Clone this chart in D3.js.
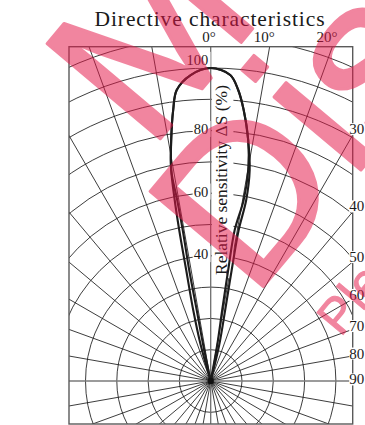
<!DOCTYPE html>
<html>
<head>
<meta charset="utf-8">
<script src="https://cdn.jsdelivr.net/npm/d3@7"></script>
<style>
  html, body { margin: 0; padding: 0; background: #fff; }
  svg { display: block; }
</style>
</head>
<body>
<svg id="chart" width="365" height="425"></svg>
<script>
// Directivity pattern: angle from the sensor axis (deg) vs relative sensitivity (%)
// Wider trace
const outerAngles = [-16, -15.52, -13.84, -12.45, -11.78, -11.25, -10.60, -9.31, -7.88, -6.66, -3.74, 0,
                     3.65, 5.40, 6.94, 8.84, 10.47, 11.10, 10.50, 10.71, 11.54, 13.28, 14];
const outerValues = [0, 11.94, 23.36, 36.32, 49.28, 58.96, 68.58, 78.03, 87.41, 93.60, 97.97, 100,
                     97.96, 93.39, 87.22, 77.92, 68.55, 58.93, 49.06, 36.09, 23.15, 11.82, 0];
// Narrower trace
const innerAngles = [-12, -11.77, -11.15, -10.96, -10.50, -10.49, -10.60, -9.31, -7.88, -6.66, -3.74, 0,
                     3.65, 5.40, 6.94, 8.84, 10.08, 10.33, 9.03, 8.96, 9.20, 10.23, 10.5];
const innerValues = [0, 11.75, 23.12, 36.12, 49.06, 58.81, 68.58, 78.03, 87.41, 93.60, 97.97, 100,
                     97.96, 93.39, 87.22, 77.92, 68.47, 58.78, 48.85, 35.90, 22.98, 11.69, 0];

// Grid and tick labels
const ringValues = d3.range(10, 160, 10);
const spokeAngles = d3.range(0, 360, 10);
const ringTickLabels = [40, 60, 80, 100];
const topAngleLabels = [0, 10, 20];
const sideAngleLabels = [30, 40, 50, 60, 70, 80, 90];

const titleText = "Directive characteristics";
const axisTitleText = "Relative sensitivity  \u0394S (%)";
const stampLines = ["Maintenance/", "Discontinued"];
const stampNote = "Please visit following URL about latest information.";

const frame = { left: 69, top: 46.7, right: 352.7, bottom: 424 };
const cx = 210.7, cy = 381;

const svg = d3.select("#chart");
const rad = d => d * Math.PI / 180;
const r = d3.scaleLinear().domain([0, 100]).range([0, 313]);

const serif = "'Liberation Serif', 'Times New Roman', Times, serif";
const ink = "#1a1a1a";

// Clip for everything inside the frame
svg.append("defs").append("clipPath").attr("id", "plotClip")
  .append("rect")
  .attr("x", frame.left).attr("y", frame.top)
  .attr("width", frame.right - frame.left).attr("height", frame.bottom - frame.top);

const plot = svg.append("g").attr("clip-path", "url(#plotClip)");
const grid = plot.append("g").attr("transform", `translate(${cx},${cy})`);

// Concentric rings every 10 %
grid.selectAll("circle.ring").data(ringValues).join("circle")
  .attr("class", "ring")
  .attr("r", d => r(d))
  .attr("fill", "none").attr("stroke", ink).attr("stroke-width", 0.85);

// Spokes every 10 degrees
const spokeLen = r(250);
grid.selectAll("line.spoke").data(spokeAngles.filter(a => a % 90 !== 0)).join("line")
  .attr("class", "spoke")
  .attr("x1", 0).attr("y1", 0)
  .attr("x2", d => spokeLen * Math.sin(rad(d)))
  .attr("y2", d => -spokeLen * Math.cos(rad(d)))
  .attr("stroke", ink).attr("stroke-width", 0.85);

// Main axes (0 deg and 90 deg) in grey
grid.append("line").attr("x1", 0).attr("x2", 0).attr("y1", frame.top - cy).attr("y2", frame.bottom - cy)
  .attr("stroke", "#6e6e6e").attr("stroke-width", 1.3);
grid.append("line").attr("x1", frame.left - cx).attr("x2", frame.right - cx).attr("y1", 0).attr("y2", 0)
  .attr("stroke", "#7a7a7a").attr("stroke-width", 1.6);

// Frame
svg.append("rect")
  .attr("x", frame.left).attr("y", frame.top)
  .attr("width", frame.right - frame.left).attr("height", frame.bottom - frame.top)
  .attr("fill", "none").attr("stroke", "#5a5a5a").attr("stroke-width", 1.4);

// Helper: text with a white backing box
function boxedText(parent, attrs, text, pad) {
  const g = parent.append("g");
  const bg = g.append("rect").attr("fill", "#fff");
  const t = g.append("text").text(text);
  Object.entries(attrs).forEach(([k, v]) => t.attr(k, v));
  const b = t.node().getBBox();
  bg.attr("x", b.x - pad.l).attr("y", b.y - pad.t)
    .attr("width", b.width + pad.l + pad.r).attr("height", b.height + pad.t + pad.b);
  return g;
}

// Axis title along the 0 deg axis, on a white strip
const titleLen = 190, titleMid = 180;
const axisTitle = svg.append("g");
const atBg = axisTitle.append("rect").attr("fill", "#fff");
const at = axisTitle.append("text")
  .attr("transform", `translate(${cx + 16.5},${titleMid}) rotate(-90)`)
  .attr("text-anchor", "middle")
  .attr("font-family", serif).attr("font-size", 15).attr("fill", ink)
  .text(axisTitleText);
{
  const len = at.node().getComputedTextLength();
  at.attr("font-size", 15 * titleLen / len);
  atBg.attr("x", cx + 1.2).attr("y", titleMid - titleLen / 2 - 3)
    .attr("width", 21.5).attr("height", titleLen + 6);
}

// Radial tick labels on the 0 deg axis
ringTickLabels.forEach(v => {
  const y = v === 100 ? cy - r(v) - 6.5 : cy - r(v);
  boxedText(svg, {
    x: cx - 2.5, y: y, "text-anchor": "end", "dominant-baseline": "middle",
    "font-family": serif, "font-size": 14.5, fill: ink
  }, String(v), { l: 1, r: 2.3, t: 0, b: 0 });
});

// Angle labels along the top edge
topAngleLabels.forEach(a => {
  const x = cx + (cy - frame.top) * Math.tan(rad(a));
  svg.append("text")
    .attr("x", x + 5).attr("y", 42)
    .attr("text-anchor", "end")
    .attr("font-family", serif).attr("font-size", 15).attr("fill", ink)
    .text(a + "\u00b0");
});

// Angle labels along the right edge
sideAngleLabels.forEach(a => {
  const dx = frame.right - cx;
  const y = cy - dx / Math.tan(rad(a)) - 5 * Math.cos(rad(a));
  boxedText(svg, {
    x: frame.right - 3.5, y: y, "text-anchor": "start", "dominant-baseline": "middle",
    "font-family": serif, "font-size": 15, fill: ink
  }, String(a), { l: 0, r: 0, t: -2, b: -2 });
});

// Title
{
  const t = svg.append("text")
    .attr("x", 210).attr("y", 25.5)
    .attr("text-anchor", "middle")
    .attr("font-family", serif).attr("font-size", 21.5).attr("fill", ink)
    .text(titleText);
  const len = t.node().getComputedTextLength();
  const target = 230;
  t.attr("letter-spacing", (target - len) / (titleText.length - 1));
}

// Directivity curves
const radial = d3.lineRadial()
  .angle(d => rad(d[0]))
  .radius(d => r(d[1]))
  .curve(d3.curveCatmullRom.alpha(0.5));

const curves = svg.append("g").attr("transform", `translate(${cx},${cy})`);
[[outerAngles, outerValues], [innerAngles, innerValues]].forEach(([angs, vals]) => {
  curves.append("path")
    .attr("d", radial(d3.zip(angs, vals)))
    .attr("fill", "none").attr("stroke", "#1c1c1c").attr("stroke-width", 2.1)
    .attr("stroke-linejoin", "round");
});
curves.append("circle").attr("r", 3.2).attr("fill", "#111");

// Status stamp across the sheet
const stamp = svg.append("g")
  .attr("transform", "translate(252,300) rotate(-50)")
  .attr("opacity", 0.52)
  .attr("fill", "rgb(229,22,72)").attr("stroke", "rgb(229,22,72)").attr("stroke-width", 3)
  .attr("stroke-linejoin", "round")
  .attr("font-family", "'Liberation Sans', Arial, sans-serif");
stamp.append("text").attr("x", 47).attr("y", -174).attr("font-size", 215).text(stampLines[0]);
stamp.append("text").attr("x", 0).attr("y", 0).attr("font-size", 215).text(stampLines[1]);
stamp.append("text").attr("x", 28).attr("y", 92).attr("font-size", 50).attr("stroke-width", 1).text(stampNote);
</script>
</body>
</html>
